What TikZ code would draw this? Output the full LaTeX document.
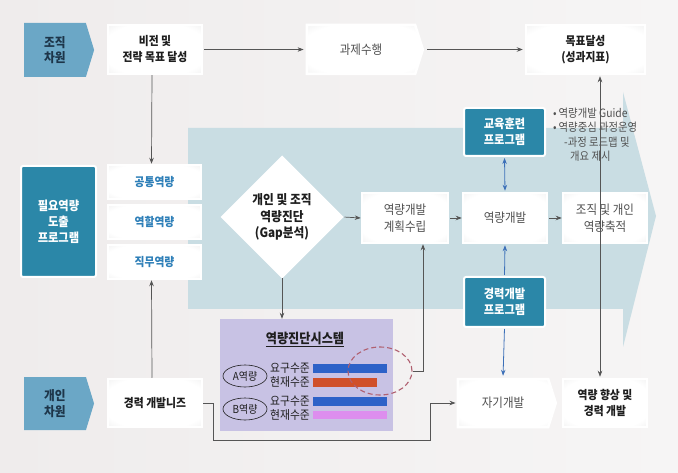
\documentclass[tikz,border=0pt]{standalone}
\usepackage{fontspec}
\setmainfont{Noto Sans CJK KR}[FakeStretch=0.9]
\usetikzlibrary{shapes.geometric,shapes.symbols,arrows.meta,shadows}
\definecolor{bgl}{HTML}{EFECEC}
\definecolor{bgr}{HTML}{F6F5F5}
\definecolor{arrowbg}{HTML}{C9DDE3}
\definecolor{pentc}{HTML}{6BA7C6}
\definecolor{navyt}{HTML}{1D3549}
\definecolor{tealc}{HTML}{2B87A8}
\definecolor{bluet}{HTML}{2E7FB8}
\definecolor{grayt}{HTML}{505050}
\definecolor{blackt}{HTML}{1E1E1E}
\definecolor{lav}{HTML}{C8C2E4}
\definecolor{barblue}{HTML}{2D62C8}
\definecolor{barred}{HTML}{D0502A}
\definecolor{barpink}{HTML}{DD8EEE}
\definecolor{blueline}{HTML}{3C70B8}
\definecolor{grayline}{HTML}{555555}
\definecolor{dashc}{HTML}{B06070}
\pgfdeclareradialshading{boxsh}{\pgfpoint{0bp}{0bp}}{color(0bp)=(white); color(28bp)=(white); color(50bp)=(black!13)}
\tikzset{
  shd/.style={drop shadow={shadow xshift=0.5pt,shadow yshift=-0.5pt,opacity=0.12,fill=black}},
  wbox/.style={rectangle, shading=boxsh, draw=white, line width=2.5pt, inner sep=1pt, align=center, shd},
  sigbox/.style={shape=signal, signal to=east, signal pointer angle=145, shading=boxsh, draw=white, line width=2.5pt, inner sep=1pt, align=center, shd},
  pent/.style={shape=signal, signal to=east, signal pointer angle=146, fill=pentc, inner sep=0pt, align=center, text=navyt, font=\fontsize{13}{15.5}\selectfont\bfseries},
  tbox/.style={rectangle, rounded corners=2pt, fill=tealc, draw=white, line width=2pt, text=white, align=center, inner sep=1pt, shd, font=\fontsize{12.5}{16}\selectfont\bfseries},
  fbold/.style={font=\fontsize{12}{16}\selectfont\bfseries, text=blackt},
  fgray/.style={font=\fontsize{12.8}{16.5}\selectfont, text=grayt},
  fblue/.style={font=\fontsize{12}{15}\selectfont\bfseries, text=bluet},
  arr/.style={draw=grayline, line width=0.7pt, -{Stealth[length=6pt,width=4.5pt]}},
  barr/.style={draw=blueline, line width=0.8pt, -{Stealth[length=6pt,width=4.5pt]}},
  dbarr/.style={draw=blueline, line width=0.8pt, {Stealth[length=6pt,width=4.5pt]}-{Stealth[length=6pt,width=4.5pt]}},
  sysl/.style={font=\fontsize{12}{13}\selectfont, text=blackt, inner sep=0pt},
  bullet/.style={font=\fontsize{11.5}{12}\selectfont, text=grayt, inner sep=0pt, anchor=west},
}
\begin{document}
\begin{tikzpicture}[x=1pt,y=-1pt]
\useasboundingbox (0,0) rectangle (678,473);
\shade[left color=bgl, right color=bgr] (0,0) rectangle (678,473);
% big background arrow
\fill[arrowbg] (188,128) -- (623,128) -- (623,92) -- (656,216) -- (623,347) -- (623,309) -- (188,309) -- cycle;

% top row
\node[pent, minimum width=70pt, minimum height=54pt] (dimO) at (55,50) {조직\\차원};
\node[wbox, fbold, minimum width=94pt, minimum height=49pt] (vis) at (155,49.5) {비전 및\\전략 목표 달성};
\node[sigbox, fgray, minimum width=116pt, minimum height=49pt] (task) at (361,49.5) {과제수행};
\node[wbox, fbold, minimum width=119pt, minimum height=49pt] (goal) at (585.5,49.5) {목표달성\\(성과지표)};

% left program column
\node[tbox, minimum width=75pt, minimum height=111pt] (need) at (58.5,221.5) {필요역량\\도출\\프로그램};
\node[wbox, fblue, minimum width=93pt, minimum height=34pt] (com) at (154.5,182) {공통역량};
\node[wbox, fblue, minimum width=93pt, minimum height=34pt] (rol) at (154.5,222) {역할역량};
\node[wbox, fblue, minimum width=93pt, minimum height=34pt] (job) at (154.5,262) {직무역량};

% diamond
\node[diamond, aspect=1, minimum size=120pt, inner sep=0pt, shading=boxsh, draw=white, line width=3pt, shd, align=center, font=\fontsize{13}{16.5}\selectfont\bfseries, text=blackt] (dia) at (282,217) {개인 및 조직\\역량진단\\(Gap분석)};

% middle row
\node[wbox, fgray, minimum width=86pt, minimum height=50pt] (plan) at (405,218) {역량개발\\계획수립};
\node[wbox, fgray, minimum width=84pt, minimum height=50pt] (dev) at (505,218) {역량개발};
\node[wbox, fgray, minimum width=84pt, minimum height=50pt] (acc) at (605,218) {조직 및 개인\\역량축적};

% teal programs
\node[tbox, minimum width=81pt, minimum height=48pt] (edu) at (504.5,132) {교육훈련\\프로그램};
\node[tbox, minimum width=81pt, minimum height=50pt] (car) at (504.5,302) {경력개발\\프로그램};

% bullets
\node[bullet] (b1) at (553,113) {•\hspace{2pt}역량개발 Guide};
\node[bullet] (b2) at (553,127) {•\hspace{2pt}역량중심 과정운영};
\node[bullet] (b3) at (564,142) {-과정 로드맵 및};
\node[bullet] (b4) at (570,156) {개요 제시};

% diagnosis system
\node[rectangle, fill=lav, minimum width=173pt, minimum height=112pt, inner sep=0pt] (sys) at (306.5,375) {};
\node[font=\fontsize{13.5}{15}\selectfont\bfseries, text=blackt, inner sep=0pt] (systitle) at (305,339) {\underline{역량진단시스템}};
\node[ellipse, draw=blackt, line width=0.6pt, minimum width=44pt, minimum height=22pt, inner sep=0pt, font=\fontsize{11}{12}\selectfont, text=blackt] (ea) at (245,376) {A역량};
\node[ellipse, draw=blackt, line width=0.6pt, minimum width=44pt, minimum height=22pt, inner sep=0pt, font=\fontsize{11}{12}\selectfont, text=blackt] (eb) at (245,409) {B역량};
\node[sysl] (ra1) at (290,368) {요구수준};
\node[sysl] (ra2) at (290,382.5) {현재수준};
\node[sysl] (rb1) at (290,401.5) {요구수준};
\node[sysl] (rb2) at (290,415) {현재수준};
\fill[barblue] (313,364) rectangle (387,373);
\fill[barred] (313,378) rectangle (377,387);
\fill[barblue] (313,397) rectangle (387,406);
\fill[barpink] (313,411) rectangle (387,419);
\node[ellipse, draw=dashc, dashed, dash pattern=on 5pt off 3pt, line width=1.1pt, minimum width=64pt, minimum height=48pt, inner sep=0pt] (circ) at (380,371) {};

% bottom row
\node[pent, minimum width=70pt, minimum height=53pt] (dimP) at (55,403.5) {개인\\차원};
\node[wbox, fbold, minimum width=94pt, minimum height=48pt] (cneed) at (155,403) {경력 개발니즈};
\node[sigbox, fgray, minimum width=98pt, minimum height=48pt] (self) at (503,403) {자기개발};
\node[wbox, fbold, minimum width=84pt, minimum height=48pt] (up) at (605,403) {역량 향상 및\\경력 개발};

% connectors
\coordinate (vx) at (600,0);
\coordinate (c1) at (213,440);
\coordinate (c2) at (430,440);
\draw[arr, shorten <=1pt, shorten >=2pt] (vis.east) -- (task.west);
\draw[arr, shorten <=3pt, shorten >=2pt] (task.east) -- (goal.west);
\draw[arr] ([xshift=-3pt]vis.south) -- ([xshift=-3pt]com.north);
\draw[arr] ([xshift=-3pt]cneed.north) -- ([xshift=-3pt]job.south);
\draw[arr] (dia.south) -- (dia.south |- sys.north);
\draw[arr, shorten <=1pt] (dia.east) -- (plan.west);
\draw[arr, shorten <=1pt] (plan.east) -- (dev.west);
\draw[arr, shorten <=1pt] (dev.east) -- (acc.west);
\draw[dbarr, shorten <=1pt, shorten >=1pt] (edu.south) -- (dev.north);
\draw[barr, shorten <=1pt, shorten >=1pt] (car.north) -- (dev.south);
\draw[barr, shorten <=1pt, shorten >=2pt] (car.south) -- (self.north);
\draw[draw=grayline, line width=0.6pt, {Stealth[length=6pt,width=4.5pt]}-{Stealth[length=6pt,width=4.5pt]}, shorten <=1pt, shorten >=1pt] (up.north -| vx) -- (goal.south -| vx);
\draw[arr] (circ.east) -| ([xshift=18pt]plan.south);
\draw[arr, shorten >=1pt] (cneed.east) -| (c1) -- (c2) |- (self.west);
\end{tikzpicture}
\end{document}
